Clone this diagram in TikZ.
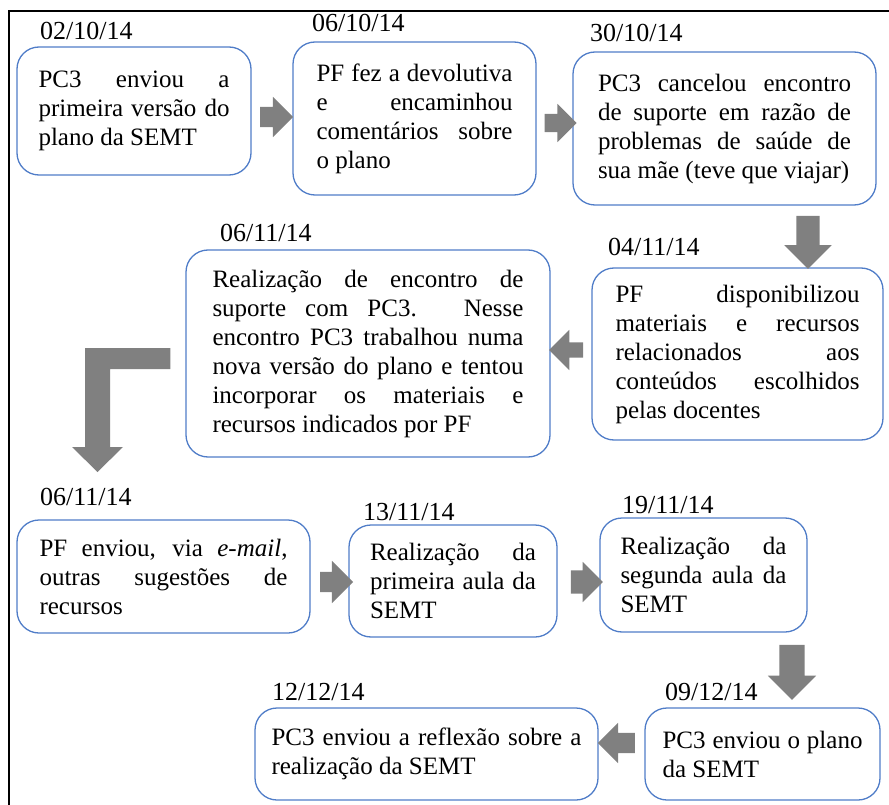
\documentclass[tikz,border=0pt]{standalone}
\usepackage{fontspec}
\setmainfont{Liberation Serif}
\usetikzlibrary{shapes.arrows}

\definecolor{boxblue}{RGB}{80,125,200}
\definecolor{arrowgray}{RGB}{128,128,128}

\tikzset{
	evbox/.style={draw=boxblue, line width=1.3pt, rounded corners=22pt, inner sep=0pt,
		align=justify, font=\fontsize{25}{29}\selectfont},
	datelabel/.style={anchor=base west, inner sep=0pt, font=\fontsize{26}{30}\selectfont},
	blockarrow/.style={single arrow, fill=arrowgray, draw=none, inner xsep=0pt}
}

\begin{document}
\begin{tikzpicture}[x=1pt,y=-1pt]
\useasboundingbox (0,0) rectangle (889,805);
\draw[line width=2pt] (8.5,805) -- (8.5,11) -- (889,11);

% row 1
\node[evbox, minimum width=234pt, minimum height=128pt, text width=191pt] (b1) at (134,111)
	{PC3 enviou a\linebreak primeira versão do\linebreak plano da SEMT};
\node[evbox, minimum width=243pt, minimum height=153pt, text width=196pt] (b2) at (414.5,118.5)
	{PF fez a devolutiva\linebreak e encaminhou\linebreak comentários sobre\linebreak o plano};
\node[evbox, minimum width=303pt, minimum height=153pt, text width=253pt] (b3) at (724.5,128.5)
	{PC3 cancelou encontro\linebreak de suporte em razão de\linebreak problemas de saúde de\linebreak sua mãe (teve que viajar)};

% row 2
\node[evbox, minimum width=291pt, minimum height=172pt, text width=244pt] (b4) at (737.5,354)
	{PF disponibilizou\linebreak materiais e recursos\linebreak relacionados aos\linebreak conteúdos escolhidos\linebreak pelas docentes};
\node[evbox, minimum width=364pt, minimum height=207pt, text width=311pt] (b5) at (368,353.5)
	{Realização de encontro de\linebreak suporte com PC3. Nesse\linebreak encontro PC3 trabalhou numa\linebreak nova versão do plano e tentou\linebreak incorporar os materiais e\linebreak recursos indicados por PF};

% row 3
\node[evbox, minimum width=293pt, minimum height=113pt, text width=248pt] (b6) at (163.5,576.5)
	{PF enviou, via \emph{e-mail},\linebreak outras sugestões de\linebreak recursos};
\node[evbox, minimum width=208pt, minimum height=112pt, text width=166pt] (b7) at (453,581)
	{Realização da\linebreak primeira aula da\linebreak SEMT};
\node[evbox, minimum width=207pt, minimum height=114pt, text width=166pt] (b8) at (703.5,575)
	{Realização da\linebreak segunda aula da\linebreak SEMT};

% row 4
\node[evbox, minimum width=235pt, minimum height=92pt, text width=200pt] (b9) at (762.5,754)
	{PC3 enviou o plano\linebreak da SEMT};
\node[evbox, minimum width=343pt, minimum height=92pt, text width=310pt] (b10) at (426.5,754)
	{PC3 enviou a reflexão sobre a\linebreak realização da SEMT};

% dates
\node[datelabel] (d1) at (40,40) {02/10/14};
\node[datelabel] (d2) at (312,32) {06/10/14};
\node[datelabel] (d3) at (590,42) {30/10/14};
\node[datelabel] (d4) at (608,255) {04/11/14};
\node[datelabel] (d5) at (220,242) {06/11/14};
\node[datelabel] (d6) at (40,505) {06/11/14};
\node[datelabel] (d7) at (363,520) {13/11/14};
\node[datelabel] (d8) at (622,513) {19/11/14};
\node[datelabel] (d9) at (665,700) {09/12/14};
\node[datelabel] (d10) at (272,700) {12/12/14};

% arrows
\node[blockarrow, minimum height=33pt, inner ysep=10pt, single arrow head extend=10pt] (a1) at (271.5,117) {};
\node[blockarrow, minimum height=32pt, inner ysep=9pt, single arrow head extend=10pt] (a2) at (556,123) {};
\node[blockarrow, shape border rotate=270, minimum height=53pt, inner sep=11.5pt, single arrow head extend=12pt] (a3) at (808,236.5) {};
\node[blockarrow, shape border rotate=180, minimum height=34pt, inner ysep=7.5pt, single arrow head extend=12.5pt] (a4) at (570,350) {};
\coordinate (l1) at ([xshift=-15pt]b5.west);
\fill[arrowgray] (l1|-0,348) -- (85,348) -- (85,447) -- (72,447) -- (97.5,472)
	-- (123,447) -- (110,447) -- (110,369) -- (l1|-0,369) -- cycle;
\node[blockarrow, minimum height=33pt, inner ysep=10pt, single arrow head extend=11pt] (a6) at (331.5,582) {};
\node[blockarrow, minimum height=32pt, inner ysep=11.5pt, single arrow head extend=8.5pt] (a7) at (581,582) {};
\node[blockarrow, shape border rotate=270, minimum height=55pt, inner sep=12.5pt, single arrow head extend=11.5pt] (a8) at (792,666) {};
\node[blockarrow, shape border rotate=180, minimum height=37pt, inner ysep=10pt, single arrow head extend=10pt] (a9) at (621.5,743) {};
\end{tikzpicture}
\end{document}
